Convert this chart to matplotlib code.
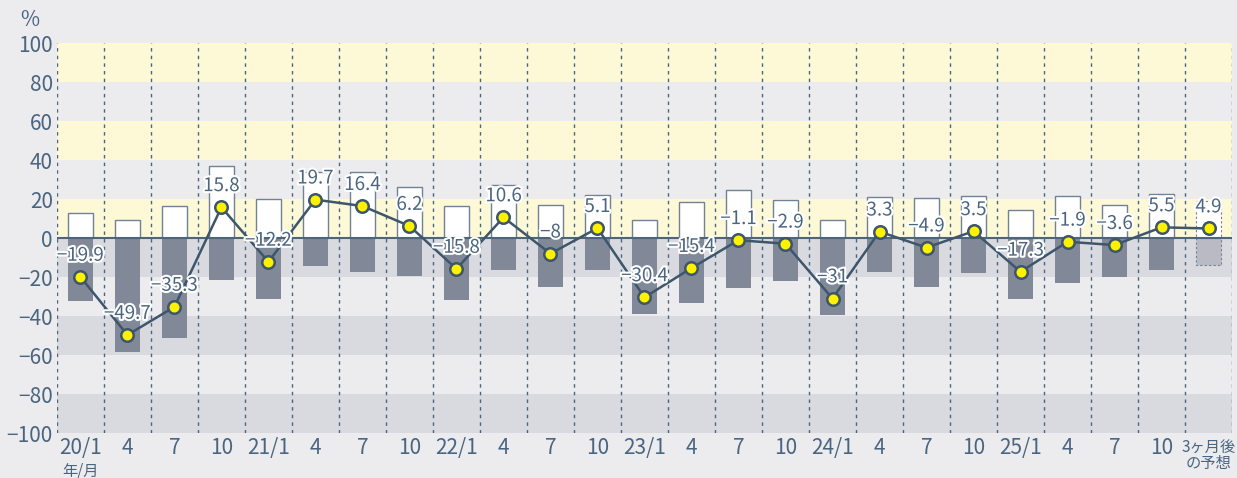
import matplotlib
matplotlib.use("Agg")
import matplotlib.pyplot as plt
import matplotlib.patheffects as pe
import numpy as np

plt.rcParams['font.family'] = ['Noto Sans CJK JP', 'DejaVu Sans']
plt.rcParams['axes.unicode_minus'] = True

# data
labels = ["20/1", "4", "7", "10", "21/1", "4", "7", "10", "22/1", "4", "7", "10",
          "23/1", "4", "7", "10", "24/1", "4", "7", "10", "25/1", "4", "7", "10",
          "3ヶ月後\nの予想"]
good = [13, 9, 16.5, 37, 20, 34, 34, 26, 16.5, 27, 17, 22,
        9, 18.5, 24.5, 19.5, 9, 21, 20.5, 21.5, 14.5, 21.5, 17, 22.5, 19]
bad = [-32.5, -58.5, -51.5, -21.5, -31.5, -14.5, -17.5, -19.5, -32, -16.5, -25, -16.5,
       -39, -33.5, -25.5, -22, -39.5, -17.5, -25, -18, -31.5, -23, -20, -16.5, -14]
di = [-19.9, -49.7, -35.3, 15.8, -12.2, 19.7, 16.4, 6.2, -15.8, 10.6, -8, 5.1,
      -30.4, -15.4, -1.1, -2.9, -31, 3.3, -4.9, 3.5, -17.3, -1.9, -3.6, 5.5, 4.9]
di_text = ["−19.9", "−49.7", "−35.3", "15.8", "−12.2", "19.7", "16.4", "6.2", "−15.8",
           "10.6", "−8", "5.1", "−30.4", "−15.4", "−1.1", "−2.9", "−31", "3.3", "−4.9",
           "3.5", "−17.3", "−1.9", "−3.6", "5.5", "4.9"]

txt = "#4a6580"
line_c = "#3d566c"
bg = "#ecebee"
yellow = "#fdf9d6"
dark_band = "#d9dadf"

fig = plt.figure(figsize=(12.37, 4.78), dpi=100, facecolor=bg)
ax = fig.add_axes([0.046, 0.094, 0.95, 0.816])
ax.set_facecolor(bg)

# bands
for lo, hi in [(80, 100), (40, 60), (0, 20)]:
    ax.axhspan(lo, hi, color=yellow, zorder=0, lw=0)
for lo, hi in [(-20, 0), (-60, -40), (-100, -80)]:
    ax.axhspan(lo, hi, color=dark_band, zorder=0, lw=0)

x = np.arange(len(labels))
n = len(labels)
w = 0.52

ax.bar(x[:-1], good[:-1], width=w, color="white", edgecolor="#6f8296", lw=1, zorder=2)
ax.bar(x[:-1], bad[:-1], width=w, color="#818898", lw=0, zorder=2)
# forecast bars
ax.bar(x[-1], good[-1], width=w, color="white", edgecolor="#6f8296", lw=0.8, ls=(0, (2, 2)), zorder=2)
ax.bar(x[-1], bad[-1], width=w, color="#b9bac4", edgecolor="#6f8296", lw=0.8, ls=(0, (2, 2)), zorder=2)

# category separators
for b in np.arange(-0.5, n, 1):
    ax.axvline(b, color=txt, lw=1.0, ls=(0, (2.5, 3)), zorder=1)

ax.axhline(0, color="#4e6478", lw=1.5, zorder=3)

ax.plot(x, di, color=line_c, lw=1.8, zorder=4, marker="o", ms=9,
        markerfacecolor="#fff200", markeredgecolor=line_c, markeredgewidth=1.8)

for xi, v, t in zip(x, di, di_text):
    ax.annotate(t, (xi, v), xytext=(0, 8), textcoords="offset points", ha="center",
                va="bottom", fontsize=13.5, color=txt, zorder=5,
                path_effects=[pe.withStroke(linewidth=3, foreground="white")])

ax.set_xlim(-0.5, n - 0.5)
ax.set_ylim(-100, 100)
ax.set_yticks(np.arange(-100, 101, 20))
ax.set_yticklabels([str(v).replace("-", "−") for v in range(-100, 101, 20)],
                   fontsize=15, color=txt)
ax.set_xticks(x)
ax.set_xticklabels(labels[:-1] + [""], fontsize=15, color=txt)
ax.tick_params(length=0, pad=3)
ax.text(x[-1], -103, labels[-1], ha="center", va="top", fontsize=11, color=txt,
        linespacing=0.95)
ax.text(0, -115, "年/月", ha="center", va="top", fontsize=11, color=txt)
for s in ax.spines.values():
    s.set_visible(False)

fig.text(0.016, 0.958, "%", fontsize=15, color=txt, ha="left", va="center")

fig.savefig("out.png", dpi=100, facecolor=bg)
